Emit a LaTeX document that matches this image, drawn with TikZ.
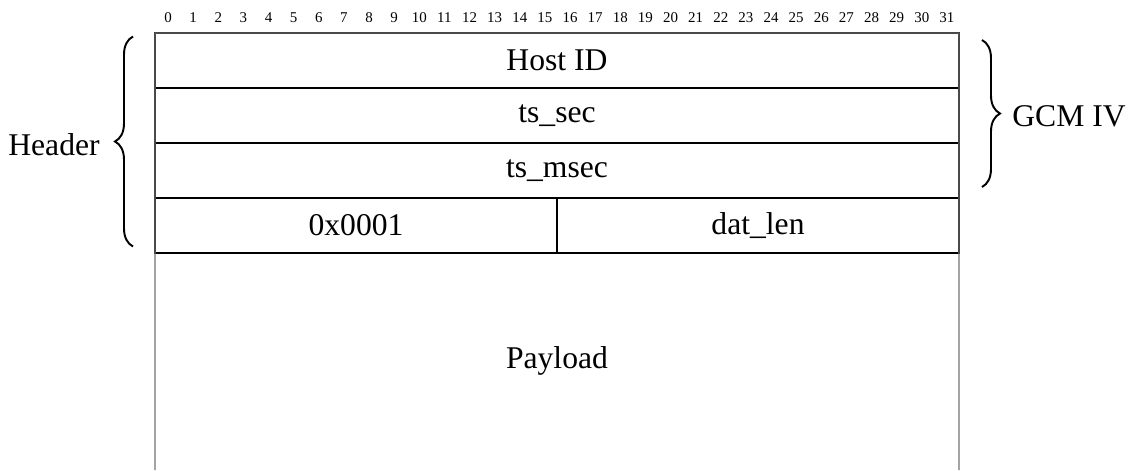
\documentclass[tikz,border=0pt]{standalone}
\usepackage{fontspec}
\setmainfont{Liberation Serif}
\usetikzlibrary{positioning,decorations.pathreplacing}
\newcommand{\fieldsize}{\fontsize{18}{21}\selectfont}
\newcommand{\bitsize}{\fontsize{8.5}{10}\selectfont}

\begin{document}
\begin{tikzpicture}[
    field/.style={draw, line width=0.6pt, inner sep=0pt, outer sep=0pt, minimum height=1.1cm, font=\fieldsize},
    bitnum/.style={inner sep=0pt, font=\bitsize},
    outline/.style={draw=black!55, line width=0.7pt},
    grouplabel/.style={inner sep=0pt, font=\fieldsize},
    groupbrace/.style={decorate, decoration={brace, amplitude=0.36cm}, line width=1.1pt}
]
    \useasboundingbox (0,0) rectangle (22.56,-9.40);
    % Bit numbers
    \foreach \i in {0,...,31}
        \node[bitnum] (bit\i) at ({3.36+0.5025*\i},-0.35) {\i};
    % Header words
    \node[field, minimum width=16.08cm, anchor=north west] (hostid) at (3.10,-0.66) {Host ID};
    \node[field, minimum width=16.08cm, below=0pt of hostid] (tssec) {ts\_sec};
    \node[field, minimum width=16.08cm, below=0pt of tssec] (tsmsec) {ts\_msec};
    \node[field, minimum width=8.04cm, anchor=north west] (proto) at (tsmsec.south west) {0x0001};
    \node[field, minimum width=8.04cm, anchor=north east] (datlen) at (tsmsec.south east) {dat\_len};
    % Payload, open at the bottom
    \coordinate (paybl) at (3.10,-9.40);
    \coordinate (paybr) at (19.18,-9.40);
    \node[grouplabel] (payload) at (11.14,-7.22) {Payload};
    \draw[outline] (paybl) |- (hostid.north east) -- (paybr);
    % Braces
    \coordinate (hdrbot) at (2.66,-4.93);
    \coordinate (hdrtop) at (2.66,-0.73);
    \draw[groupbrace] (hdrbot) -- (hdrtop);
    \node[grouplabel, anchor=east] (hdr) at (2.00,-2.90) {Header};
    \coordinate (ivtop) at (19.64,-0.80);
    \coordinate (ivbot) at (19.64,-3.74);
    \draw[groupbrace] (ivtop) -- (ivbot);
    \node[grouplabel, anchor=west] (gcmiv) at (20.24,-2.33) {GCM IV};
\end{tikzpicture}
\end{document}
